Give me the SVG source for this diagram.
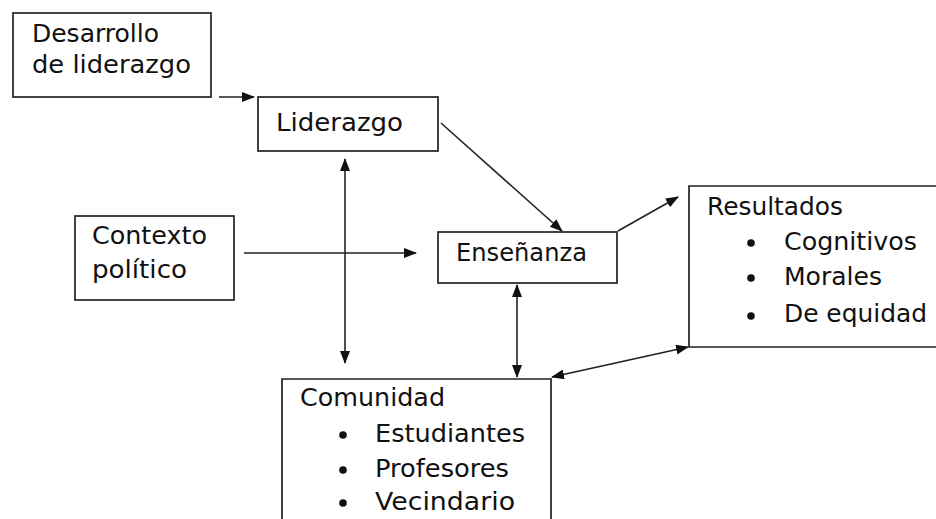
<svg xmlns="http://www.w3.org/2000/svg" width="936" height="519" viewBox="0 0 936 519">
<style>
.box{fill:#fff;stroke:#222;stroke-width:1.7}
.t{font-family:"DejaVu Sans",Verdana,sans-serif;font-size:24.5px;fill:#111}
.c{stroke:#222;stroke-width:1.6;fill:none}
.dot{fill:#111}
</style>
<defs>
<marker id="ah" viewBox="0 0 13 10" refX="12" refY="5" markerWidth="13" markerHeight="10" markerUnits="userSpaceOnUse" orient="auto-start-reverse">
<path d="M0,0 L13,5 L0,10 z" fill="#111"/>
</marker>
</defs>
<rect width="936" height="519" fill="#fff"/>
<g id="desarrollo">
<rect class="box" x="13" y="13" width="198" height="84"/>
<text class="t" x="32" y="42" textLength="127" lengthAdjust="spacingAndGlyphs">Desarrollo</text>
<text class="t" x="32" y="73" textLength="159" lengthAdjust="spacingAndGlyphs">de liderazgo</text>
</g>
<g id="liderazgo">
<rect class="box" x="258" y="97" width="180" height="54"/>
<text class="t" x="276" y="131" textLength="127" lengthAdjust="spacingAndGlyphs">Liderazgo</text>
</g>
<g id="contexto">
<rect class="box" x="75" y="216" width="159" height="84"/>
<text class="t" x="92" y="244" textLength="115" lengthAdjust="spacingAndGlyphs">Contexto</text>
<text class="t" x="92" y="278" textLength="95" lengthAdjust="spacingAndGlyphs">político</text>
</g>
<g id="ensenanza">
<rect class="box" x="438" y="232" width="179" height="51"/>
<text class="t" x="456" y="261" textLength="131" lengthAdjust="spacingAndGlyphs">Enseñanza</text>
</g>
<g id="resultados">
<path class="box" d="M940,186 H689 V347 H940"/>
<text class="t" x="707" y="215" textLength="136" lengthAdjust="spacingAndGlyphs">Resultados</text>
<circle class="dot" cx="751" cy="243" r="3.8"/>
<text class="t" x="784" y="250" textLength="133" lengthAdjust="spacingAndGlyphs">Cognitivos</text>
<circle class="dot" cx="751" cy="278" r="3.8"/>
<text class="t" x="784" y="285" textLength="98" lengthAdjust="spacingAndGlyphs">Morales</text>
<circle class="dot" cx="751" cy="316" r="3.8"/>
<text class="t" x="784" y="322" textLength="143" lengthAdjust="spacingAndGlyphs">De equidad</text>
</g>
<g id="comunidad">
<path class="box" d="M282,525 V379 H551 V525"/>
<text class="t" x="300" y="406" textLength="145" lengthAdjust="spacingAndGlyphs">Comunidad</text>
<circle class="dot" cx="343" cy="435" r="3.8"/>
<text class="t" x="375" y="442" textLength="150" lengthAdjust="spacingAndGlyphs">Estudiantes</text>
<circle class="dot" cx="343" cy="470" r="3.8"/>
<text class="t" x="375" y="477" textLength="134" lengthAdjust="spacingAndGlyphs">Profesores</text>
<circle class="dot" cx="343" cy="503" r="3.8"/>
<text class="t" x="375" y="510" textLength="140" lengthAdjust="spacingAndGlyphs">Vecindario</text>
</g>
<g id="connectors">
<line class="c" x1="219" y1="97" x2="254" y2="97" marker-end="url(#ah)"/>
<line class="c" x1="441" y1="123" x2="562" y2="231" marker-end="url(#ah)"/>
<line class="c" x1="244" y1="253" x2="416" y2="253" marker-end="url(#ah)"/>
<line class="c" x1="345" y1="159" x2="345" y2="363" marker-start="url(#ah)" marker-end="url(#ah)"/>
<line class="c" x1="618" y1="231" x2="678" y2="197" marker-end="url(#ah)"/>
<line class="c" x1="517" y1="285" x2="517" y2="377" marker-start="url(#ah)" marker-end="url(#ah)"/>
<line class="c" x1="552" y1="377" x2="688" y2="347" marker-start="url(#ah)" marker-end="url(#ah)"/>
</g>
</svg>
